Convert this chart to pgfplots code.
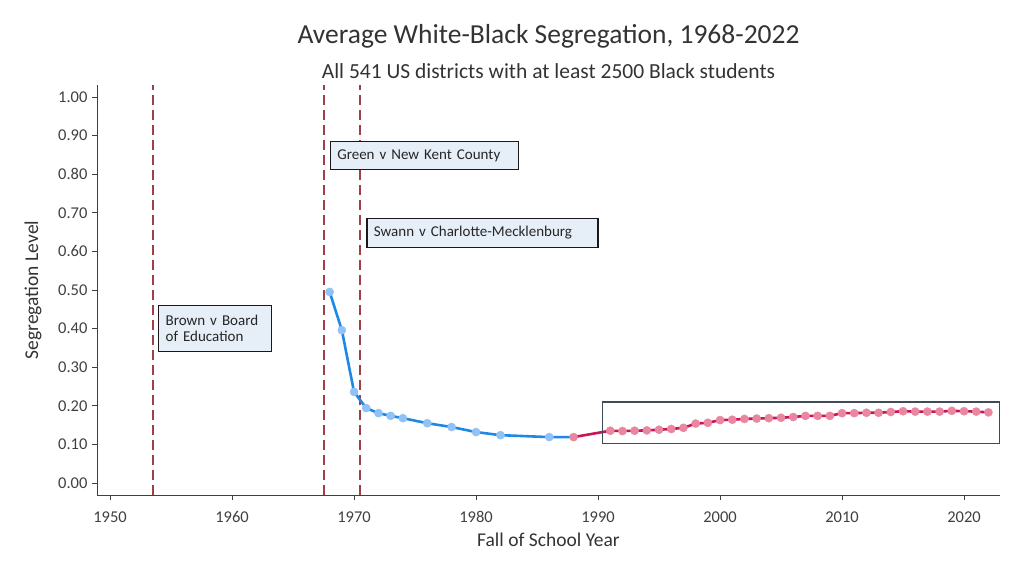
\documentclass[border=0pt]{standalone}
\usepackage{fontspec}
\setmainfont{Carlito}
\usepackage{pgfplots}
\pgfplotsset{compat=1.18}
\definecolor{blueline}{HTML}{1E88E5}
\definecolor{bluemark}{HTML}{90C2F6}
\definecolor{redline}{HTML}{C8155A}
\definecolor{pinkmark}{HTML}{E8879F}
\definecolor{vline}{HTML}{9E3F4A}
\definecolor{boxfill}{HTML}{E6EEF8}
\definecolor{axgray}{HTML}{404040}
\definecolor{rectc}{HTML}{3F4A5A}
\begin{document}
\begin{tikzpicture}[x=1pt,y=1pt]
\useasboundingbox (0,0) rectangle (1024,576);
\begin{axis}[
  at={(97pt,81pt)}, anchor=south west,
  scale only axis, width=903pt, height=410pt,
  xmin=1948.93, xmax=2022.95, ymin=-0.031, ymax=1.031,
  axis x line*=bottom, axis y line*=left,
  axis line style={-, axgray, line width=1pt},
  tick align=outside, major tick length=5pt,
  tick style={axgray, line width=0.9pt},
  xtick={1950,1960,...,2020},
  ytick={0,0.1,...,1.0},
  /pgf/number format/assume math mode=true,
  xticklabel style={font=\fontsize{16.5}{18}\selectfont, text=axgray, text height=11.5pt, text depth=0pt, yshift=-7pt, /pgf/number format/1000 sep={}},
  yticklabel style={font=\fontsize{16.5}{18}\selectfont, text=axgray, xshift=-1pt, /pgf/number format/fixed, /pgf/number format/fixed zerofill, /pgf/number format/precision=2},
  xlabel={Fall of School Year},
  ylabel={Segregation Level},
  xlabel style={font=\fontsize{19.5}{22}\selectfont, text=black!80, at={(axis description cs:0.5,-0.1098)}, anchor=center},
  ylabel style={font=\fontsize{19.5}{22}\selectfont, text=black!80, at={(axis description cs:-0.0709,0.5)}, anchor=center, rotate=0},
  clip=false,
]
% vertical dashed lines
\draw[vline, line width=1.8pt, dash pattern=on 10pt off 5pt] (axis cs:1953.5,-0.031) -- (axis cs:1953.5,1.031);
\draw[vline, line width=1.8pt, dash pattern=on 10pt off 5pt] (axis cs:1967.53,-0.031) -- (axis cs:1967.53,1.031);
\draw[vline, line width=1.8pt, dash pattern=on 10pt off 5pt] (axis cs:1970.5,-0.031) -- (axis cs:1970.5,1.031);
% blue line
\addplot[blueline, line width=2.6pt, no marks] coordinates {
(1968,0.495) (1969,0.396) (1970,0.236) (1971,0.194) (1972,0.181) (1973,0.174) (1974,0.168)
(1976,0.155) (1978,0.145) (1980,0.132) (1982,0.124) (1986,0.119) (1988,0.119)};
% red line
\addplot[redline, line width=2.6pt, no marks] coordinates {
(1988,0.119) (1991,0.1355) (1992,0.1347) (1993,0.1355) (1994,0.1364) (1995,0.138) (1996,0.140)
(1997,0.143) (1998,0.154) (1999,0.156) (2000,0.163) (2001,0.164) (2002,0.166) (2003,0.167)
(2004,0.168) (2005,0.169) (2006,0.171) (2007,0.174) (2008,0.174) (2009,0.174) (2010,0.181)
(2011,0.181) (2012,0.182) (2013,0.182) (2014,0.184) (2015,0.186) (2016,0.185) (2017,0.185)
(2018,0.185) (2019,0.187) (2020,0.186) (2021,0.185) (2022,0.183)};
% pink marks
\addplot[only marks, mark=*, mark size=4.1pt, color=pinkmark, mark options={draw=pinkmark, fill=pinkmark, line width=0.4pt}] coordinates {
(1988,0.119) (1991,0.1355) (1992,0.1347) (1993,0.1355) (1994,0.1364) (1995,0.138) (1996,0.140)
(1997,0.143) (1998,0.154) (1999,0.156) (2000,0.163) (2001,0.164) (2002,0.166) (2003,0.167)
(2004,0.168) (2005,0.169) (2006,0.171) (2007,0.174) (2008,0.174) (2009,0.174) (2010,0.181)
(2011,0.181) (2012,0.182) (2013,0.182) (2014,0.184) (2015,0.186) (2016,0.185) (2017,0.185)
(2018,0.185) (2019,0.187) (2020,0.186) (2021,0.185) (2022,0.183)};
% blue marks
\addplot[only marks, mark=*, mark size=4.1pt, color=bluemark, mark options={draw=bluemark, fill=bluemark, line width=0.4pt}] coordinates {
(1968,0.495) (1969,0.396) (1970,0.236) (1971,0.194) (1972,0.181) (1973,0.174) (1974,0.168)
(1976,0.155) (1978,0.145) (1980,0.132) (1982,0.124) (1986,0.119)};
% highlight rectangle
\draw[color=rectc, line width=1.2pt] (axis cs:1990.38,0.103) rectangle (axis cs:2022.9,0.21);
% annotation boxes
\node[draw=black!90, line width=1.3pt, fill=boxfill, anchor=north west, inner xsep=7pt, inner ysep=0pt,
  text width=174pt, minimum height=28pt, align=left, text=black!85, font=\fontsize{15}{17}\selectfont]
  at (axis cs:1968.0,0.886) {Green v New Kent County};
\node[draw=black!90, line width=1.3pt, fill=boxfill, anchor=north west, inner xsep=7pt, inner ysep=0pt,
  text width=217pt, minimum height=29pt, align=left, text=black!85, font=\fontsize{15}{17}\selectfont]
  at (axis cs:1971.0,0.687) {Swann v Charlotte-Mecklenburg};
\node[draw=black!90, line width=1.3pt, fill=boxfill, anchor=north west, inner xsep=7pt, inner ysep=0pt,
  text width=99pt, minimum height=46pt, align=left, text=black!85, font=\fontsize{15}{16}\selectfont]
  at (axis cs:1953.93,0.461) {Brown v Board\\of Education};
% titles
\node[font=\fontsize{27.5}{32}\selectfont, text=black!80] at (axis description cs:0.5,1.1195) {Average White-Black Segregation, 1968-2022};
\node[font=\fontsize{21.5}{25}\selectfont, text=black!80] at (axis description cs:0.5,1.034) {All 541 US districts with at least 2500 Black students};
\end{axis}
\end{tikzpicture}
\end{document}
